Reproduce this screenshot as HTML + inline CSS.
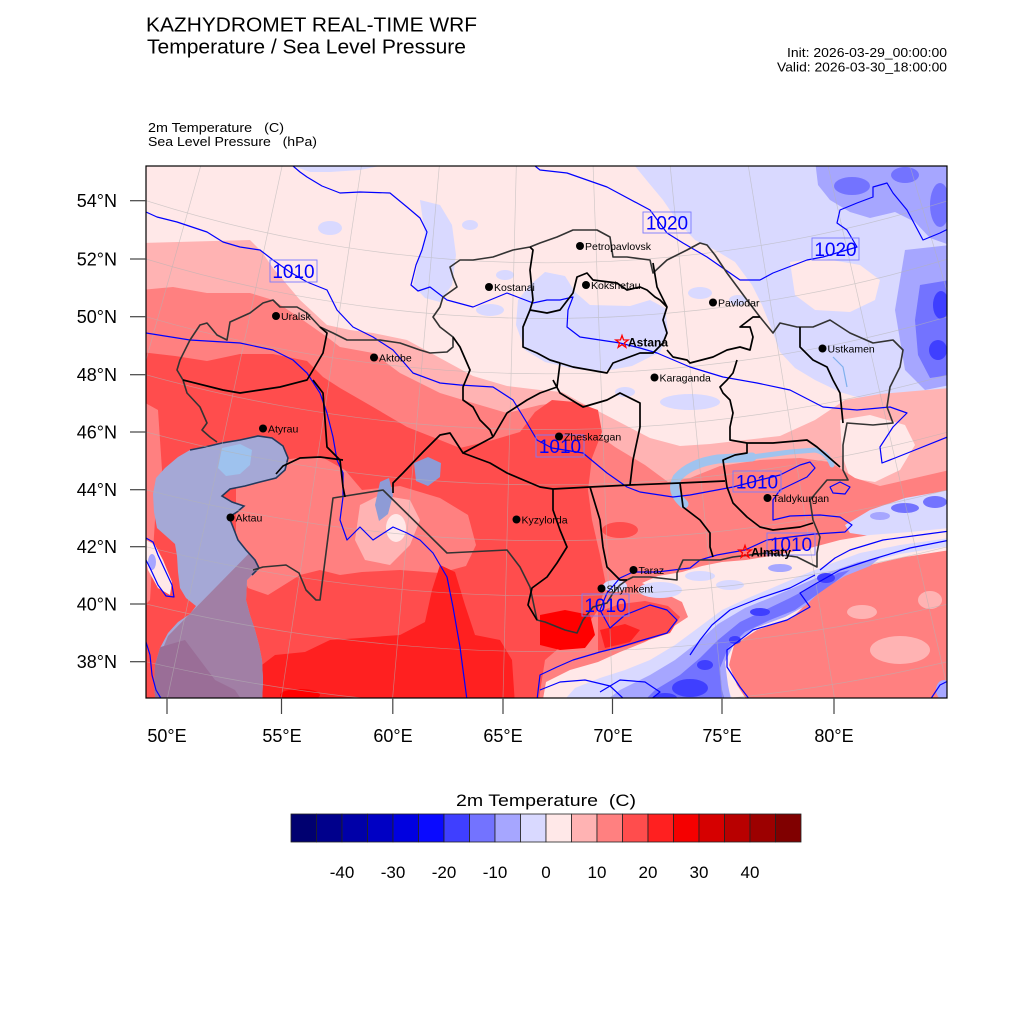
<!DOCTYPE html>
<html><head><meta charset="utf-8"><style>
html,body{margin:0;padding:0;background:#fff;}
svg{display:block;font-family:"Liberation Sans",Arial,Helvetica,sans-serif;}
.ct{fill:none;stroke:#0000ff;stroke-width:1.2;stroke-linejoin:round;}
.cb{fill:none;stroke:#333;stroke-width:1.6;stroke-linejoin:round;}
.ib{fill:none;stroke:#000;stroke-width:1.7;stroke-linejoin:round;}
.gr{fill:none;stroke:#b4b4b4;stroke-width:0.7;opacity:0.6;}
.cl{font-size:10.5px;fill:#000;}
.lb{fill:none;stroke:#7a7aff;stroke-width:0.9;}
.lt{font-size:19px;fill:#0000ff;}
</style></head><body>
<svg width="1024" height="1024" viewBox="0 0 1024 1024" xmlns="http://www.w3.org/2000/svg">
<defs>
<clipPath id="plot"><rect x="146" y="166" width="801" height="532"/></clipPath>
<clipPath id="sea"><path d="M165,468 L178,457 L190,450 L205,447 L222,443 L240,440 L258,436 L272,438 L283,446 L288,458 L285,470 L276,478 L260,482 L245,486 L230,489 L222,496 L232,502 L244,506 L237,512 L229,517 L233,527 L238,540 L246,550 L255,560 L259,568 L252,575 L247,580 L246,600 L250,615 L255,630 L259,645 L262,660 L263,680 L262,705 L156,705 L154,685 L155,665 L160,648 L168,633 L178,622 L190,614 L196,606 L186,598 L180,588 L178,572 L177,556 L175,544 L166,536 L157,528 L154,512 L153,494 L156,478 Z"/></clipPath>
</defs>
<rect width="1024" height="1024" fill="#fff"/>

<!-- Header -->
<text x="146" y="31.5" font-size="20.5" textLength="331" lengthAdjust="spacingAndGlyphs">KAZHYDROMET REAL-TIME WRF</text>
<text x="147" y="53.5" font-size="20.5" textLength="319" lengthAdjust="spacingAndGlyphs">Temperature / Sea Level Pressure</text>
<text x="787" y="57" font-size="12.5" textLength="160" lengthAdjust="spacingAndGlyphs">Init: 2026-03-29_00:00:00</text>
<text x="777" y="71.5" font-size="12.5" textLength="170" lengthAdjust="spacingAndGlyphs">Valid: 2026-03-30_18:00:00</text>
<text x="148" y="132" font-size="13" textLength="136" lengthAdjust="spacingAndGlyphs" style="white-space:pre">2m Temperature   (C)</text>
<text x="148" y="146" font-size="13" textLength="169" lengthAdjust="spacingAndGlyphs" style="white-space:pre">Sea Level Pressure   (hPa)</text>

<g clip-path="url(#plot)">
<rect x="140" y="160" width="815" height="545" fill="#ffe8e8"/>

<!-- lavender north-east -->
<path fill="#d9d9ff" d="M630,160 L950,160 L950,392 L920,398 L890,400 L860,398 L840,392 L815,380 L795,368 L780,352 L772,330 L762,305 L752,285 L735,262 L715,250 L695,240 L678,222 L663,200 L648,182 Z"/>
<path fill="#ffe8e8" d="M790,262 L820,258 L860,265 L880,280 L875,300 L850,312 L815,310 L795,295 Z"/>
<path fill="#a6a6ff" d="M815,160 L950,160 L950,245 L930,238 L915,222 L895,212 L870,218 L850,212 L830,200 L818,185 Z"/>
<ellipse cx="852" cy="186" rx="18" ry="9" fill="#7373ff"/>
<ellipse cx="905" cy="175" rx="14" ry="8" fill="#7373ff"/>
<ellipse cx="940" cy="205" rx="10" ry="22" fill="#7373ff"/>
<path fill="#a6a6ff" d="M905,250 L950,245 L950,385 L925,390 L905,370 L900,340 L895,310 L900,280 Z"/>
<path fill="#7373ff" d="M920,285 L950,280 L950,375 L930,378 L918,355 L915,320 Z"/>
<ellipse cx="941" cy="305" rx="8" ry="14" fill="#3f3fff"/>
<ellipse cx="938" cy="350" rx="9" ry="10" fill="#3f3fff"/>
<!-- lavender Astana -->
<path fill="#d9d9ff" d="M518,300 L530,285 L545,272 L565,276 L575,292 L590,305 L630,306 L650,300 L665,308 L668,332 L660,352 L632,366 L600,372 L570,368 L545,362 L525,350 L516,325 Z"/>
<!-- lavender middle -->
<path fill="#d9d9ff" d="M420,200 L440,205 L452,225 L456,255 L452,285 L440,302 L425,298 L413,285 L418,262 L425,235 Z"/>
<path fill="#d9d9ff" d="M293,166 L380,166 L360,170 L330,172 L310,172 Z"/>
<ellipse cx="330" cy="228" rx="12" ry="7" fill="#d9d9ff"/>
<ellipse cx="490" cy="310" rx="14" ry="6" fill="#d9d9ff"/>
<ellipse cx="700" cy="293" rx="12" ry="6" fill="#d9d9ff"/>
<ellipse cx="690" cy="402" rx="30" ry="8" fill="#d9d9ff"/>
<ellipse cx="470" cy="225" rx="8" ry="5" fill="#d9d9ff"/>
<ellipse cx="505" cy="275" rx="9" ry="5" fill="#d9d9ff"/>
<ellipse cx="625" cy="392" rx="10" ry="5" fill="#d9d9ff"/>
<ellipse cx="738" cy="300" rx="9" ry="5" fill="#d9d9ff"/>

<!-- warm zones -->
<path fill="#ffb3b3" d="M140,243 L250,240 L262,252 L273,268 L300,300 L327,325 L350,330 L373,333 L407,340 L440,358 L473,376 L507,386 L540,390 L562,392 L580,402 L600,412 L625,425 L650,438 L680,446 L710,444 L745,440 L780,436 L815,420 L845,400 L880,394 L950,388 L950,705 L140,705 Z"/>
<path fill="#ffe8e8" d="M840,420 L870,415 L905,425 L915,445 L900,470 L875,482 L850,478 L842,455 Z"/>
<path fill="#ff8080" d="M140,290 L173,287 L207,293 L250,293 L273,300 L300,318 L327,337 L340,347 L373,353 L400,373 L440,393 L473,403 L507,413 L540,405 L562,402 L585,425 L615,447 L645,465 L668,482 L690,478 L720,466 L760,460 L800,458 L830,462 L855,478 L880,486 L915,478 L950,470 L950,705 L140,705 Z"/>
<path fill="#ff4d4d" d="M140,352 L175,356 L207,361 L240,354 L273,354 L307,361 L323,377 L340,388 L373,407 L407,427 L440,440 L460,448 L493,440 L520,432 L535,412 L552,400 L575,402 L598,410 L602,432 L592,458 L588,490 L592,520 L600,555 L606,585 L598,610 L585,628 L565,643 L545,660 L538,705 L140,705 Z"/>
<path fill="#ff8080" d="M236,470 L280,460 L320,456 L345,470 L362,490 L400,486 L440,498 L468,515 L476,545 L466,566 L440,573 L400,570 L362,572 L340,575 L320,570 L300,575 L268,595 L248,588 L236,560 Z"/>
<path fill="#ffb3b3" d="M360,505 L380,495 L410,500 L420,520 L410,545 L390,565 L365,560 L355,540 Z"/>
<ellipse cx="396" cy="528" rx="10" ry="14" fill="#ffe8e8"/>
<path fill="#ff8080" d="M140,400 L158,410 L162,470 L155,520 L150,600 L140,610 Z"/>
<ellipse cx="620" cy="530" rx="18" ry="8" fill="#ff4d4d"/>
<path fill="#ff2020" d="M255,705 L258,668 L275,655 L305,652 L330,640 L360,638 L400,635 L425,622 L432,590 L440,565 L455,572 L465,605 L475,635 L500,640 L512,660 L515,705 Z"/>
<path fill="#ff0000" d="M540,615 L565,610 L590,615 L595,635 L585,648 L560,650 L540,645 Z"/>
<ellipse cx="300" cy="695" rx="20" ry="6" fill="#ff0000"/>
<ellipse cx="900" cy="650" rx="30" ry="14" fill="#ffb3b3"/>
<ellipse cx="862" cy="612" rx="15" ry="7" fill="#ffb3b3"/>
<ellipse cx="930" cy="600" rx="12" ry="9" fill="#ffb3b3"/>
<!-- left coast loop -->
<path fill="#ffe8e8" d="M146,540 L155,545 L163,560 L172,582 L170,595 L158,588 L148,570 L146,560 Z"/>
<ellipse cx="152" cy="562" rx="4" ry="8" fill="#a6a6ff"/>

<!-- Dzungarian -->
<path fill="#d9d9ff" d="M845,525 L870,510 L905,498 L950,490 L950,530 L910,533 L870,536 L850,533 Z"/>
<ellipse cx="880" cy="516" rx="10" ry="4" fill="#a6a6ff"/>
<ellipse cx="905" cy="508" rx="14" ry="5" fill="#7373ff"/>
<ellipse cx="935" cy="502" rx="12" ry="6" fill="#7373ff"/>

<!-- mountain band -->
<path fill="#ffe8e8" d="M598,662 L620,652 L645,642 L668,630 L688,617 L682,602 L662,592 L642,583 L658,576 L682,572 L702,566 L722,562 L746,560 L776,555 L810,548 L840,540 L870,535 L910,532 L950,528 L950,550 L905,557 L870,565 L842,575 L818,585 L808,602 L792,618 L757,630 L734,645 L729,665 L737,685 L750,705 L542,705 L546,682 L570,670 Z"/>
<path fill="#d9d9ff" d="M560,705 L575,688 L600,678 L625,670 L650,660 L675,645 L698,628 L722,610 L748,598 L772,588 L800,576 L830,564 L860,553 L900,545 L950,538 L950,546 L900,554 L862,564 L838,575 L815,588 L802,604 L782,616 L752,626 L730,640 L722,660 L725,682 L735,705 Z"/>
<path fill="#a6a6ff" d="M600,705 L620,690 L650,675 L675,660 L698,642 L718,624 L745,608 L772,597 L800,585 L830,572 L858,562 L880,558 L870,566 L845,576 L822,590 L805,606 L785,617 L755,628 L735,642 L725,662 L728,685 L732,705 Z"/>
<path fill="#7373ff" d="M640,705 L655,690 L680,675 L700,658 L718,640 L740,622 L765,610 L790,598 L815,585 L838,573 L850,570 L835,582 L815,596 L795,610 L770,620 L745,632 L728,648 L720,668 L722,690 L726,705 Z"/>
<ellipse cx="690" cy="688" rx="18" ry="9" fill="#3f3fff"/>
<ellipse cx="705" cy="665" rx="8" ry="5" fill="#3f3fff"/>
<ellipse cx="760" cy="612" rx="10" ry="4" fill="#3f3fff"/>
<ellipse cx="826" cy="578" rx="9" ry="5" fill="#3f3fff"/>
<ellipse cx="735" cy="640" rx="6" ry="4" fill="#3f3fff"/>
<ellipse cx="665" cy="698" rx="12" ry="5" fill="#3f3fff"/>
<ellipse cx="660" cy="590" rx="22" ry="8" fill="#d9d9ff"/>
<ellipse cx="700" cy="576" rx="15" ry="5" fill="#d9d9ff"/>
<ellipse cx="615" cy="586" rx="12" ry="6" fill="#d9d9ff"/>
<ellipse cx="730" cy="585" rx="14" ry="5" fill="#d9d9ff"/>
<ellipse cx="780" cy="568" rx="12" ry="4" fill="#a6a6ff"/>
<ellipse cx="640" cy="690" rx="10" ry="4" fill="#a6a6ff"/>
<ellipse cx="585" cy="692" rx="12" ry="4" fill="#d9d9ff"/>
<path fill="#ff4d4d" d="M598,612 L620,604 L645,601 L668,606 L680,617 L670,633 L645,641 L620,648 L598,652 Z"/>
<path fill="#ff2020" d="M600,630 L625,624 L640,630 L630,642 L605,648 Z"/>
<ellipse cx="944" cy="690" rx="8" ry="10" fill="#a6a6ff"/>

<!-- Caspian -->
<rect x="140" y="420" width="160" height="290" fill="#a5a8d6" clip-path="url(#sea)"/>
<path fill="#a17fa5" clip-path="url(#sea)" d="M264,538 L168,636 L140,705 L280,705 L280,538 Z"/>
<path fill="#9a6e97" clip-path="url(#sea)" d="M150,650 L185,640 L200,660 L215,680 L235,690 L245,705 L150,705 Z"/>
<path fill="#9ec2ee" d="M222,448 L240,444 L252,450 L250,465 L240,474 L226,476 L218,468 Z"/>
<path fill="none" stroke="#23395d" stroke-width="1.6" d="M190,450 L205,447 L222,443 L240,440 L258,436 L272,438 L283,446 L288,458 L285,470 L276,478 L260,482 L245,486 L230,489 L222,496 L232,502 L244,506 L237,512 L229,517 L233,527 L238,540 L246,550 L255,560 L259,568 L252,575"/>
<!-- Aral -->
<path fill="#8e9bd6" d="M414,463 L428,457 L441,463 L440,477 L428,486 L416,481 Z"/>
<path fill="#8e9bd6" d="M380,482 L389,478 L393,495 L388,514 L379,521 L375,505 Z"/>
<!-- Balkhash -->
<path fill="none" stroke="#a0c3ee" stroke-width="9" stroke-linecap="round" d="M684,504 Q670,492 677,478 Q690,463 718,459 L752,457"/>
<path fill="none" stroke="#a0c3ee" stroke-width="5" stroke-linecap="round" d="M752,457 L790,452 L815,450 Q827,452 832,465"/>
<path fill="none" stroke="#7fb0ee" stroke-width="1.2" d="M833,357 L843,367 L847,387"/>

<!-- graticule -->
<g class="gr">
<circle cx="547" cy="-1062" r="1324.8"/>
<circle cx="547" cy="-1062" r="1380.5"/>
<circle cx="547" cy="-1062" r="1435.8"/>
<circle cx="547" cy="-1062" r="1491.6"/>
<circle cx="547" cy="-1062" r="1546.9"/>
<circle cx="547" cy="-1062" r="1602.7"/>
<circle cx="547" cy="-1062" r="1657.9"/>
<circle cx="547" cy="-1062" r="1713.6"/>
<circle cx="547" cy="-1062" r="1769.7"/>
<line x1="200.7" y1="166" x2="146" y2="360"/>
<line x1="282.1" y1="166" x2="167.4" y2="698"/>
<line x1="361.4" y1="166" x2="281.3" y2="698"/>
<line x1="439.3" y1="166" x2="392.6" y2="698"/>
<line x1="516.3" y1="166" x2="503" y2="698"/>
<line x1="593.1" y1="166" x2="612.5" y2="698"/>
<line x1="670.2" y1="166" x2="722.5" y2="698"/>
<line x1="748.3" y1="166" x2="834.5" y2="698"/>
<line x1="828" y1="166" x2="947" y2="686"/>
<line x1="910" y1="166" x2="947" y2="291"/>
</g>

<!-- contours -->
<path class="ct" d="M293,166 L300,172 L307,177 L322,186 L340,193 L360,192 L390,193 L407,207 L420,218 L427,232 L422,250 L416,265 L411,285 L418,291 L430,287 L447,300 L473,307 L490,300 L507,293 L520,298 L533,303 L547,300 L560,300 L573,297 L568,310 L567,327 L580,337 L600,340 L620,343 L640,348 L657,353 L690,367 L723,377 L757,383 L790,390 L823,407 L857,410 L890,407 L907,413 L893,427 L880,447 L882,463 L895,458 L915,450 L950,436"/>
<path class="ct" d="M146,212 L157,217 L177,222 L207,232 L223,242 L240,247 L260,250 L273,260 L290,272 L307,282 L327,290 L337,310 L353,327 L373,337 L393,350 L413,373 L440,383 L460,385 L493,387 L513,400 L527,423 L537,440 L552,448 L583,453 L607,473 L627,487 L640,492 L673,497 L690,495 L733,487 L760,480 L780,475 L800,465 L810,462 L815,468 L807,477 L780,490 L773,500 L773,520 L790,516 L820,515 L840,517 L852,525 L845,532 L815,534 L790,537 L767,540 L745,550 L717,555 L700,560 L690,568 L657,572 L633,572 L620,578 L607,593 L600,610 L610,628 L625,615 L650,605 L667,610 L677,620 L667,633 L643,640 L620,647 L600,652 L573,660 L557,667 L540,675 L537,700"/>
<path class="ct" d="M146,333 L190,340 L240,343 L273,350 L293,360 L307,373 L320,393 L327,413 L333,437 L337,460 L343,473 L343,497 L340,520 L347,540 L360,527 L373,540 L393,527 L407,533 L420,540 L433,553 L447,577 L453,607 L460,647 L467,700"/>
<path class="ct" d="M535,166 L540,170 L567,173 L607,187 L650,210 L667,233 L683,243 L707,257 L740,280 L760,280 L773,273 L807,260 L823,257 L857,247 L847,230 L837,223 L840,210 L857,203 L873,197 L873,187 L887,183 L893,193 L907,210 L923,240 L940,233 L950,228"/>
<path class="ct" d="M146,538 L153,542 L158,555 L165,570 L172,585 L174,597 L166,596 L158,585 L151,570 L146,560"/>
<path class="ct" d="M146,642 L150,655 L152,675 L156,690 L162,700"/>
<path class="ct" d="M750,700 L740,687 L727,667 L727,650 L753,630 L787,620 L810,607 L800,593 L817,583 L840,570 L870,560 L910,548 L950,540"/>
<path class="ct" d="M820,570 L835,558 L850,550 L883,540 L920,535 L950,531"/>
<path class="ct" d="M690,655 L700,640 L712,625 L730,610 L760,598 L790,588 L815,575"/>
<path class="ct" d="M600,692 L620,680 L645,682 L660,692 L650,700"/>
<path class="ct" d="M540,690 L560,682 L585,680 L610,686 L625,700"/>
<path class="ct" d="M930,700 L940,685 L950,680"/>
<path class="ct" d="M830,487 L840,482 L850,487 L845,494 L833,493 Z"/>

<!-- borders -->
<path class="cb" d="M217,442 L210,437 L202,430 L207,423 L200,407 L187,393 L183,380 L177,370 L180,360 L190,340 L200,325 L207,323 L217,335 L227,340 L230,322 L250,313 L263,303 L273,300 L280,307 L297,307 L307,313 L320,327 L333,333 L347,340 L380,340 L400,343 L420,350 L430,353 L447,352 L453,347 L453,337 L440,327 L433,317 L440,307 L443,297 L457,287 L453,277 L450,267 L460,260 L473,260 L493,257 L513,250 L530,247 L540,243 L557,237 L573,230 L597,230 L610,237 L613,257 L627,257 L650,260 L653,273 L667,260 L673,257 L687,250 L700,243 L707,245 L715,255 L727,273 L747,300 L760,317 L773,333 L780,323 L797,327 L813,327 L830,320 L850,333 L873,343 L893,340 L903,350 L900,367 L890,387 L887,407 L893,423 L873,425 L847,423 L843,445 L843,470 L848,480 L827,480 L810,500 L813,520 L820,537 L817,553 L817,567 L797,557 L767,553 L733,557 L720,560 L700,560 L683,560 L677,573 L677,580 L650,577 L633,577 L627,580 L620,585 L613,593 L607,603 L593,607 L583,620 L577,633 L565,630 L545,622 L537,620 L530,587 L520,567 L507,550 L447,553 L383,490 L333,498 L320,600 L316,600 L306,590 L299,573 L286,565 L263,567 L253,570"/>
<path class="ib" d="M183,380 L223,390 L240,393 L260,390 L280,387 L307,380 L313,370 L323,353 L327,333 L320,327"/>
<path class="ib" d="M313,380 L323,393 L325,420 L327,447 L333,453 L340,460 L343,487 L345,497"/>
<path class="ib" d="M343,460 L320,457 L300,458 L283,466 L276,474"/>
<path class="ib" d="M453,337 L460,347 L470,370 L463,387 L463,400 L473,407 L480,420 L490,430 L493,437"/>
<path class="ib" d="M493,437 L463,453 L450,433 L440,435 L423,452 L403,473 L393,483 L393,493"/>
<path class="ib" d="M463,453 L490,463 L507,473 L540,487 L553,489 L590,487 L630,485 L680,483 L725,481"/>
<path class="ib" d="M530,247 L533,250 L530,270 L533,300 L530,310 L523,327 L523,347 L537,353 L550,360 L560,363"/>
<path class="ib" d="M530,310 L547,313 L560,310 L573,293 L577,277 L587,273 L593,280 L617,283 L627,290 L640,287 L647,290 L655,297 L660,300 L667,307"/>
<path class="ib" d="M653,263 L657,287 L660,293 L667,307 L663,320 L667,333 L663,343 L653,353 L640,353 L613,363 L607,373 L573,367 L560,363"/>
<path class="ib" d="M560,363 L557,387 L540,393 L527,400 L507,413 L493,437"/>
<path class="ib" d="M553,380 L560,393 L583,407 L607,400 L620,393 L640,403 L640,427 L633,460 L630,485"/>
<path class="ib" d="M667,350 L673,357 L687,360 L690,363 L713,357 L727,350 L740,347 L750,350 L753,337 L750,327 L740,327 L753,317 L760,317"/>
<path class="ib" d="M737,360 L733,373 L727,380 L720,387 L723,393 L730,400 L733,413 L730,427 L730,440 L747,443 L773,443 L807,440 L817,447 L840,467"/>
<path class="ib" d="M747,443 L747,453 L735,455 L723,460 L727,487 L733,503 L747,517 L760,527 L773,530 L800,527 L813,523"/>
<path class="ib" d="M800,327 L800,347 L813,360 L827,367 L833,380 L840,393 L843,423"/>
<path class="ib" d="M680,483 L683,507 L700,520 L710,533 L710,547 L713,557"/>
<path class="ib" d="M553,489 L553,510 L560,530 L567,547 L557,563 L547,577 L532,588 L528,605 L537,620"/>
<path class="ib" d="M590,487 L600,520 L603,547 L607,567 L620,580 L627,580"/>

<!-- contour labels -->
<rect class="lb" x="270" y="260" width="47" height="22"/><text class="lt" x="293.5" y="278" text-anchor="middle">1010</text>
<rect class="lb" x="643" y="212" width="48" height="21"/><text class="lt" x="667" y="229.5" text-anchor="middle">1020</text>
<rect class="lb" x="812" y="238" width="47" height="22"/><text class="lt" x="835.5" y="256" text-anchor="middle">1020</text>
<rect class="lb" x="536" y="435" width="48" height="22"/><text class="lt" x="560" y="453" text-anchor="middle">1010</text>
<rect class="lb" x="733" y="471" width="48" height="21"/><text class="lt" x="757" y="488.5" text-anchor="middle">1010</text>
<rect class="lb" x="767" y="533" width="48" height="22"/><text class="lt" x="791" y="551" text-anchor="middle">1010</text>
<rect class="lb" x="582" y="594" width="47" height="22"/><text class="lt" x="605.5" y="612" text-anchor="middle">1010</text>

<!-- cities -->
<g fill="#000">
<circle cx="580" cy="246" r="4"/><circle cx="586" cy="285" r="4"/><circle cx="489" cy="287" r="4"/>
<circle cx="713" cy="302.5" r="4"/><circle cx="276" cy="316" r="4"/><circle cx="374" cy="357.5" r="4"/>
<circle cx="654.5" cy="377.5" r="4"/><circle cx="822.5" cy="348.5" r="4"/><circle cx="263" cy="428.5" r="4"/>
<circle cx="559" cy="436.5" r="4"/><circle cx="230.5" cy="517.5" r="4"/><circle cx="516.5" cy="519.5" r="4"/>
<circle cx="767.5" cy="498" r="4"/><circle cx="633.5" cy="570" r="4"/><circle cx="601.5" cy="588.5" r="4"/>
</g>
<text class="cl" x="585" y="250">Petropavlovsk</text>
<text class="cl" x="591" y="289">Kokshetau</text>
<text class="cl" x="494" y="291">Kostanai</text>
<text class="cl" x="718" y="306.5">Pavlodar</text>
<text class="cl" x="281" y="320">Uralsk</text>
<text class="cl" x="379" y="361.5">Aktobe</text>
<text class="cl" x="659.5" y="381.5">Karaganda</text>
<text class="cl" x="827.5" y="352.5">Ustkamen</text>
<text class="cl" x="268" y="432.5">Atyrau</text>
<text class="cl" x="564" y="440.5">Zheskazgan</text>
<text class="cl" x="235.5" y="521.5">Aktau</text>
<text class="cl" x="521.5" y="523.5">Kyzylorda</text>
<text class="cl" x="772.5" y="502">Taldykurgan</text>
<text class="cl" x="638.5" y="574">Taraz</text>
<text class="cl" x="606.5" y="592.5">Shymkent</text>
<g fill="none" stroke="#ff0000" stroke-width="1.3">
<path transform="translate(622,342)" d="M0,-6.5 L1.53,-2.1 L6.18,-2.01 L2.47,0.8 L3.82,5.26 L0,2.6 L-3.82,5.26 L-2.47,0.8 L-6.18,-2.01 L-1.53,-2.1 Z"/>
<path transform="translate(745,552)" d="M0,-6.5 L1.53,-2.1 L6.18,-2.01 L2.47,0.8 L3.82,5.26 L0,2.6 L-3.82,5.26 L-2.47,0.8 L-6.18,-2.01 L-1.53,-2.1 Z"/>
</g>
<text x="628" y="346.5" font-size="12" font-weight="bold">Astana</text>
<text x="751" y="556.5" font-size="12" font-weight="bold">Almaty</text>
</g>

<!-- frame -->
<rect x="146" y="166" width="801" height="532" fill="none" stroke="#000" stroke-width="1.2"/>

<!-- axes ticks -->
<g stroke="#444" stroke-width="1.2">
<line x1="130" y1="200.7" x2="146" y2="200.7"/><line x1="130" y1="259" x2="146" y2="259"/>
<line x1="130" y1="316.7" x2="146" y2="316.7"/><line x1="130" y1="374.7" x2="146" y2="374.7"/>
<line x1="130" y1="432" x2="146" y2="432"/><line x1="130" y1="489.7" x2="146" y2="489.7"/>
<line x1="130" y1="546.7" x2="146" y2="546.7"/><line x1="130" y1="604" x2="146" y2="604"/>
<line x1="130" y1="661.7" x2="146" y2="661.7"/>
<line x1="167" y1="698" x2="167" y2="714"/><line x1="281.5" y1="698" x2="281.5" y2="714"/>
<line x1="392.8" y1="698" x2="392.8" y2="714"/><line x1="503" y1="698" x2="503" y2="714"/>
<line x1="612.5" y1="698" x2="612.5" y2="714"/><line x1="722" y1="698" x2="722" y2="714"/>
<line x1="834" y1="698" x2="834" y2="714"/>
</g>
<g font-size="18" text-anchor="end">
<text x="117" y="207.2">54°N</text><text x="117" y="265.5">52°N</text><text x="117" y="323.2">50°N</text>
<text x="117" y="381.2">48°N</text><text x="117" y="438.5">46°N</text><text x="117" y="496.2">44°N</text>
<text x="117" y="553.2">42°N</text><text x="117" y="610.5">40°N</text><text x="117" y="668.2">38°N</text>
</g>
<g font-size="18" text-anchor="middle">
<text x="167" y="742">50°E</text><text x="282" y="742">55°E</text><text x="393" y="742">60°E</text>
<text x="503" y="742">65°E</text><text x="613" y="742">70°E</text><text x="722" y="742">75°E</text>
<text x="834" y="742">80°E</text>
</g>

<!-- colorbar -->
<text x="546" y="806" font-size="17" text-anchor="middle" textLength="180" lengthAdjust="spacingAndGlyphs" style="white-space:pre">2m Temperature  (C)</text>
<g stroke="#222" stroke-width="0.8">
<rect x="291" y="814" width="25.5" height="28" fill="#000070"/>
<rect x="316.5" y="814" width="25.5" height="28" fill="#00008c"/>
<rect x="342" y="814" width="25.5" height="28" fill="#0000a8"/>
<rect x="367.5" y="814" width="25.5" height="28" fill="#0000c4"/>
<rect x="393" y="814" width="25.5" height="28" fill="#0000e0"/>
<rect x="418.5" y="814" width="25.5" height="28" fill="#0a0aff"/>
<rect x="444" y="814" width="25.5" height="28" fill="#3f3fff"/>
<rect x="469.5" y="814" width="25.5" height="28" fill="#7373ff"/>
<rect x="495" y="814" width="25.5" height="28" fill="#a6a6ff"/>
<rect x="520.5" y="814" width="25.5" height="28" fill="#d9d9ff"/>
<rect x="546" y="814" width="25.5" height="28" fill="#ffe8e8"/>
<rect x="571.5" y="814" width="25.5" height="28" fill="#ffb3b3"/>
<rect x="597" y="814" width="25.5" height="28" fill="#ff8080"/>
<rect x="622.5" y="814" width="25.5" height="28" fill="#ff4d4d"/>
<rect x="648" y="814" width="25.5" height="28" fill="#ff2020"/>
<rect x="673.5" y="814" width="25.5" height="28" fill="#f50000"/>
<rect x="699" y="814" width="25.5" height="28" fill="#d60000"/>
<rect x="724.5" y="814" width="25.5" height="28" fill="#b80000"/>
<rect x="750" y="814" width="25.5" height="28" fill="#9c0000"/>
<rect x="775.5" y="814" width="25.5" height="28" fill="#800000"/>
</g>
<g font-size="17" text-anchor="middle">
<text x="342" y="878">-40</text><text x="393" y="878">-30</text><text x="444" y="878">-20</text>
<text x="495" y="878">-10</text><text x="546" y="878">0</text><text x="597" y="878">10</text>
<text x="648" y="878">20</text><text x="699" y="878">30</text><text x="750" y="878">40</text>
</g>
</svg>
</body></html>
